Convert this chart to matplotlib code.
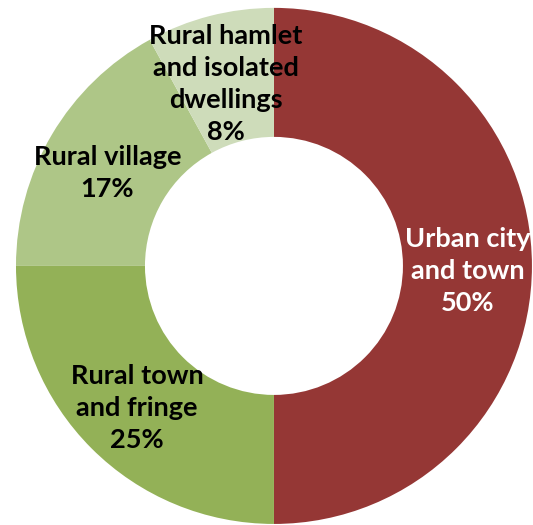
import numpy as np
import matplotlib
matplotlib.use('Agg')
import matplotlib.pyplot as plt

categories = ['Urban city\nand town', 'Rural town\nand fringe', 'Rural village', 'Rural hamlet\nand isolated\ndwellings']
shares = [50, 25, 17, 8]
colors = ['#953735', '#93B157', '#AEC687', '#CEDCBA']
text_colors = ['white', 'black', 'black', 'black']

plt.rcParams['font.family'] = ['Lato', 'DejaVu Sans']

fig = plt.figure(figsize=(5.33, 5.25), dpi=100)
ax = fig.add_axes([0.030, 0.002, 0.968, 0.983])

wedges, _ = ax.pie(shares, colors=colors, startangle=90, counterclock=False,
                   radius=1, wedgeprops=dict(width=0.5, linewidth=0))

for w, cat, val, tc in zip(wedges, categories, shares, text_colors):
    ang = np.deg2rad((w.theta1 + w.theta2) / 2)
    x, y = 0.75 * np.cos(ang), 0.75 * np.sin(ang) - 0.02
    ax.text(x, y, '%s\n%d%%' % (cat, val), ha='center', va='center',
            fontsize=19.5, fontweight='bold', color=tc, linespacing=1.4)

ax.set_xlim(-1, 1)
ax.set_ylim(-1, 1)
ax.set_aspect('auto')
ax.axis('off')

fig.savefig('out.png', dpi=100)
